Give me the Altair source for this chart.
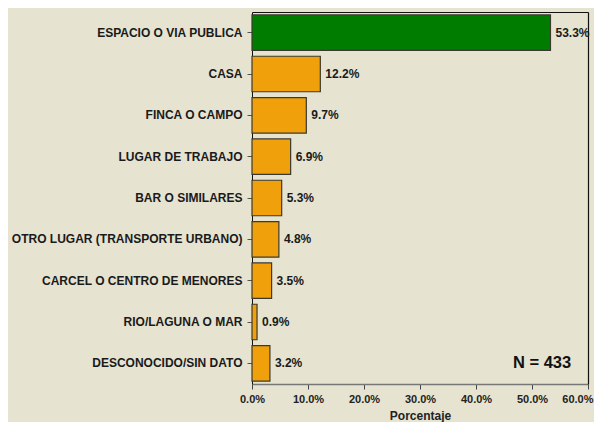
import altair as alt
import pandas as pd

categories = [
    "ESPACIO O VIA PUBLICA",
    "CASA",
    "FINCA O CAMPO",
    "LUGAR DE TRABAJO",
    "BAR O SIMILARES",
    "OTRO LUGAR (TRANSPORTE URBANO)",
    "CARCEL O CENTRO DE MENORES",
    "RIO/LAGUNA O MAR",
    "DESCONOCIDO/SIN DATO",
]
values = [53.3, 12.2, 9.7, 6.9, 5.3, 4.8, 3.5, 0.9, 3.2]
highlight = ["top", "rest", "rest", "rest", "rest", "rest", "rest", "rest", "rest"]
x_ticks = [0, 10, 20, 30, 40, 50, 60]
n_label = ["N = 433"]
n_x = [57]
n_cat = ["DESCONOCIDO/SIN DATO"]

df = pd.DataFrame({"cat": categories, "val": values, "grp": highlight})
df["lab"] = [f"{v:.1f}%" for v in values]
ndf = pd.DataFrame({"txt": n_label, "x": n_x, "cat": n_cat})

FONT = "Liberation Sans"

xscale = alt.Scale(domain=[0, 60], nice=False, zero=True)
yscale = alt.Scale(domain=categories, paddingInner=0.14, paddingOuter=0.07)

bars = alt.Chart(df).mark_bar(stroke="#3a3a30", strokeWidth=1.2).encode(
    x=alt.X("val:Q", scale=xscale,
            axis=alt.Axis(values=x_ticks, labelExpr="format(datum.value, '.1f') + '%'",
                          labelFlush=False, labelOverlap=False, labelBound=False,
                          labelAlign={"condition": {"test": "datum.value >= 60", "value": "right"},
                                      "value": "center"},
                          labelOffset={"condition": {"test": "datum.value >= 60", "value": 5},
                                       "value": 0},
                          title="Porcentaje", grid=False, domainColor="#777777",
                          domainWidth=1.5, tickColor="#444444", tickSize=5,
                          labelPadding=4, labelFont=FONT, labelFontSize=11,
                          labelFontWeight="bold", labelColor="#222222",
                          titleFont=FONT, titleFontSize=12, titleFontWeight="bold",
                          titleColor="#222222", titlePadding=6)),
    y=alt.Y("cat:N", scale=yscale, sort=categories,
            axis=alt.Axis(title=None, domainColor="#111111", tickColor="#555555",
                          tickSize=5, labelPadding=5, labelFont=FONT, labelFontSize=12,
                          labelFontWeight="bold", labelColor="#1a1a1a", labelLimit=400)),
    color=alt.Color("grp:N", scale=alt.Scale(domain=["top", "rest"],
                                             range=["#007d00", "#f0a00a"]), legend=None),
)

labels = alt.Chart(df).mark_text(align="left", baseline="middle", dx=5, font=FONT,
                                 fontSize=12, fontWeight="bold", color="#1a1a1a").encode(
    x=alt.X("val:Q", scale=xscale, axis=None),
    y=alt.Y("cat:N", scale=yscale, sort=categories, axis=None),
    text="lab:N",
)

nlab = alt.Chart(ndf).mark_text(align="right", baseline="middle", font=FONT,
                                fontSize=16.5, fontWeight="bold", color="#111111").encode(
    x=alt.X("x:Q", scale=xscale,
            axis=alt.Axis(orient="top", labels=False, ticks=False, title=None,
                          grid=False, domainColor="#111111", domainWidth=1.2)),
    y=alt.Y("cat:N", scale=yscale, sort=categories,
            axis=alt.Axis(orient="right", labels=False, ticks=False, title=None,
                          domainColor="#111111", domainWidth=1.2)),
    text="txt:N",
)

chart = alt.layer(bars, labels, nlab).resolve_axis(
    x="independent", y="independent"
).properties(
    width=336,
    height=372,
    autosize=alt.AutoSizeParams(type="none"),
    padding={"left": 244, "top": 4, "right": 6, "bottom": 38},
    background="#e6e3d1",
).configure_view(stroke=None)

chart.save("out.html", embed_options={"renderer": "svg", "actions": False})
